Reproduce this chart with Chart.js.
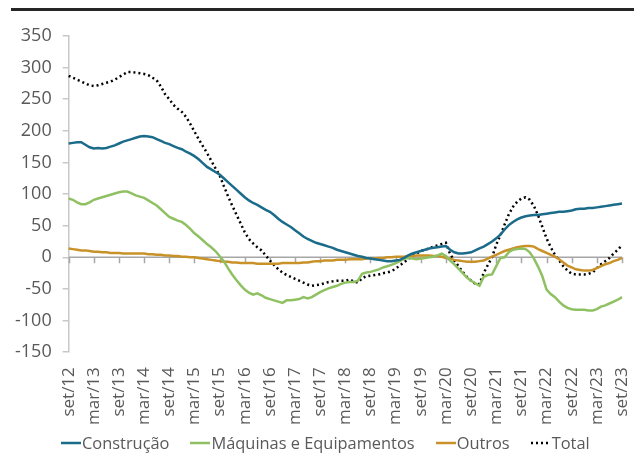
<!DOCTYPE html>
<html>
<head>
<meta charset="utf-8">
<script src="https://cdn.jsdelivr.net/npm/chart.js@4.4.0/dist/chart.umd.min.js"></script>
<style>
  html, body { margin: 0; padding: 0; background: #fff; }
  #wrap { position: relative; width: 634px; height: 464px; }
  #topbar { position: absolute; left: 11px; right: 0; top: 8px; height: 3px; background: #262626; }
  canvas { position: absolute; left: 0; top: 0; }
  #legend { position: absolute; left: 61px; top: 431px; display: flex; align-items: center;
            font: 16.4px 'Open Sans', 'Noto Sans', sans-serif; color: #595959; white-space: nowrap; }
  #legend .item { display: flex; align-items: center; margin-right: 21px; }
  #legend svg { margin-right: 1px; }
</style>
</head>
<body>
<div id="wrap">
  <div id="topbar"></div>
  <canvas id="chart" width="634" height="464"></canvas>
  <div id="legend"></div>
</div>
<script>
// === DATA (mensal, set/12 .. set/23) ===
const START_YEAR = 2012;
const START_MONTH = 8; // set
const MONTHS = ['jan','fev','mar','abr','mai','jun','jul','ago','set','out','nov','dez'];

const construcao = [
  180,181,182,182,178,174,172,173,172,173,175,177,
  180,183,185,187,189,191,192,191,190,187,184,181,
  179,176,173,171,167,164,160,155,149,143,139,135,
  131,125,119,113,107,101,95,90,86,83,79,75,
  72,67,61,56,52,48,43,38,33,29,26,23,
  21,19,17,15,12,10,8,6,4,2,1,-1,
  -2,-3,-4,-5,-6,-6,-5,-4,-1,3,6,8,
  10,12,14,15,16,17,18,12,8,6,6,7,
  8,11,14,17,21,25,30,36,44,51,56,60,
  63,65,66,67,67,68,69,70,71,72,72,73,
  74,76,77,77,78,78,79,80,81,82,83,84,
  85
];
const maquinas = [
  93,91,87,84,84,87,91,93,95,97,99,101,
  103,104,104,101,98,96,94,90,86,82,76,70,
  64,61,58,56,51,45,38,33,27,21,16,10,
  2,-6,-17,-27,-36,-44,-51,-56,-59,-57,-60,-64,
  -66,-68,-70,-72,-68,-68,-67,-66,-63,-65,-63,-59,
  -55,-52,-49,-47,-45,-42,-40,-39,-39,-37,-26,-24,
  -23,-21,-19,-16,-14,-12,-9,-6,-2,-1,-2,-3,
  -2,-1,0,1,3,6,2,-5,-11,-18,-25,-32,
  -37,-41,-45,-31,-28,-27,-14,-1,0,8,12,13,
  14,13,8,-2,-15,-30,-51,-58,-63,-70,-76,-80,
  -82,-83,-83,-83,-84,-84,-82,-78,-76,-73,-70,-67,
  -63
];
const outros = [
  14,13,12,11,11,10,9,9,8,8,7,7,
  7,6,6,6,6,6,6,5,5,4,4,3,
  3,2,2,1,1,0,0,-1,-2,-3,-4,-5,
  -6,-7,-7,-8,-8,-9,-9,-9,-9,-10,-10,-10,
  -10,-10,-10,-9,-9,-9,-9,-9,-8,-8,-7,-6,
  -6,-5,-5,-5,-4,-4,-4,-3,-3,-3,-3,-2,
  -2,-2,-1,-1,0,0,1,1,1,2,2,3,
  3,3,3,2,2,1,-1,-2,-4,-5,-6,-7,
  -7,-7,-6,-5,-2,1,4,7,10,12,14,16,
  17,18,18,17,13,10,7,4,1,-3,-8,-13,
  -16,-19,-20,-21,-21,-20,-17,-14,-11,-9,-6,-4,
  -1
];
const total = [
  287,284,281,278,275,272,271,272,274,276,278,281,
  285,289,293,293,292,291,290,288,284,280,270,258,
  250,241,235,230,222,211,199,187,176,165,153,141,
  130,113,97,82,68,54,40,29,22,16,11,3,
  -5,-12,-19,-24,-28,-31,-34,-37,-40,-43,-45,-44,
  -43,-41,-39,-38,-37,-37,-37,-35,-38,-40,-33,-30,
  -29,-28,-27,-25,-24,-22,-18,-13,-8,-3,2,6,
  10,12,14,17,19,21,23,5,-5,-14,-23,-31,
  -37,-42,-42,-25,-12,0,20,35,52,68,80,88,
  93,95,91,81,66,48,30,16,4,-5,-14,-21,
  -26,-27,-27,-27,-26,-24,-17,-11,-6,-1,6,12,
  19
];

const Y_MIN = -150, Y_MAX = 350, Y_STEP = 50;
const TICK_EVERY = 6;

// rótulos mensais "set/12", "out/12", ...
const labels = construcao.map((_, i) => {
  const m = START_MONTH + i;
  const yy = START_YEAR + Math.floor(m / 12);
  return MONTHS[m % 12] + '/' + String(yy).slice(2);
});

const TEXT = '#595959';
const AXIS = '#c8c8c8';
const FONT = "'Open Sans', 'Noto Sans', sans-serif";

// linha do zero + marcas a cada 6 meses
const zeroAxis = {
  id: 'zeroAxis',
  beforeDatasetsDraw(chart) {
    const { ctx, chartArea, scales: { x, y } } = chart;
    const y0 = y.getPixelForValue(0);
    ctx.save();
    ctx.strokeStyle = '#a6a6a6';
    ctx.lineWidth = 1.5;
    ctx.beginPath();
    ctx.moveTo(chartArea.left, y0);
    ctx.lineTo(chartArea.right, y0);
    for (let i = 0; i < labels.length; i += TICK_EVERY) {
      const px = Math.round(x.getPixelForValue(i)) + 0.5;
      ctx.moveTo(px, y0);
      ctx.lineTo(px, y0 + 6);
    }
    ctx.stroke();
    ctx.restore();
  }
};

const chart = new Chart(document.getElementById('chart'), {
  type: 'line',
  data: {
    labels,
    datasets: [
      { label: 'Construção', data: construcao, borderColor: '#1b6b8a', backgroundColor: '#1b6b8a', borderWidth: 2.5 },
      { label: 'Máquinas e Equipamentos', data: maquinas, borderColor: '#8fc163', backgroundColor: '#8fc163', borderWidth: 2.5 },
      { label: 'Outros', data: outros, borderColor: '#c99228', backgroundColor: '#c99228', borderWidth: 2.5 },
      { label: 'Total', data: total, borderColor: '#000', backgroundColor: '#000', borderWidth: 2.5, borderDash: [2, 3] }
    ]
  },
  options: {
    responsive: false,
    animation: false,
    events: [],
    elements: { point: { radius: 0 }, line: { tension: 0, borderCapStyle: 'butt' } },
    layout: { padding: { top: 36, left: 4, right: 12, bottom: 24 } },
    scales: {
      x: {
        type: 'category',
        offset: false,
        grid: { display: false, drawTicks: false },
        border: { display: false },
        // sem folga lateral extra dos rótulos girados
        afterFit: (s) => { s.paddingLeft = 0; s.paddingRight = 0; },
        ticks: {
          autoSkip: false,
          minRotation: 90,
          maxRotation: 90,
          padding: 15,
          color: TEXT,
          font: { family: FONT, size: 17 },
          callback: (v, i) => (i % TICK_EVERY === 0 ? labels[i] : null)
        }
      },
      y: {
        min: Y_MIN,
        max: Y_MAX,
        grid: { drawOnChartArea: false, drawTicks: true, tickLength: 6, color: AXIS, lineWidth: 1.5 },
        border: { display: true, color: AXIS, width: 1.5 },
        ticks: { stepSize: Y_STEP, padding: 11, color: TEXT, font: { family: FONT, size: 18 } }
      }
    },
    plugins: {
      legend: { display: false },
      tooltip: { enabled: false }
    }
  },
  plugins: [zeroAxis]
});

// legenda em HTML (linha + texto colados, como no Excel)
const legendEl = document.getElementById('legend');
chart.data.datasets.forEach(ds => {
  const item = document.createElement('div');
  item.className = 'item';
  const dash = ds.borderDash ? ` stroke-dasharray="2 3"` : '';
  item.innerHTML =
    `<svg width="20" height="10"><line x1="0" y1="5" x2="20" y2="5" stroke="${ds.borderColor}" stroke-width="2.5"${dash}/></svg>` +
    `<span>${ds.label}</span>`;
  legendEl.appendChild(item);
});
</script>
</body>
</html>
